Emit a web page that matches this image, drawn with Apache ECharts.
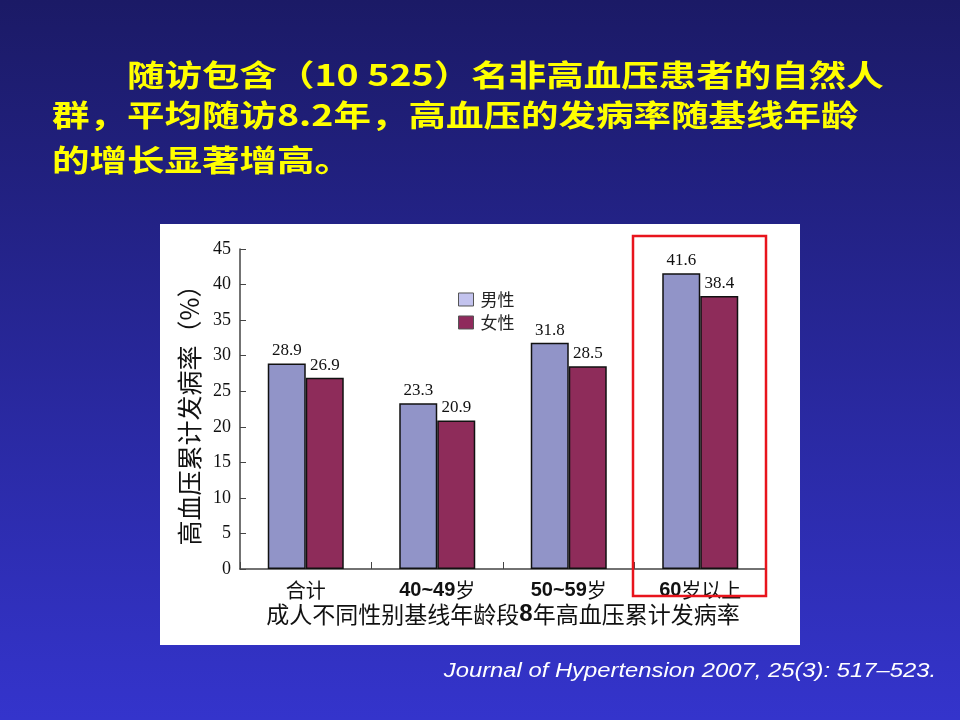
<!DOCTYPE html>
<html><head><meta charset="utf-8">
<script src="https://cdn.jsdelivr.net/npm/echarts@6/dist/echarts.min.js"></script>
<style>html,body{margin:0;padding:0;background:#1b1a66;}#c{width:960px;height:720px;}</style>
</head><body><div id="c"></div>
<script>
const categories = ['合计', '40~49岁', '50~59岁', '60岁以上'];
const maleValues = [28.9, 23.3, 31.8, 41.6];
const femaleValues = [26.9, 20.9, 28.5, 38.4];
const seriesNames = ['男性', '女性'];
const yTicks = {min: 0, max: 45, interval: 5};
const titleLines = ['随访包含（10 525）名非高血压患者的自然人', '群，平均随访8.2年，高血压的发病率随基线年龄', '的增长显著增高。'];
const xAxisName = '成人不同性别基线年龄段8年高血压累计发病率';
const yAxisName = '高血压累计发病率（%）';
const footer = 'Journal of Hypertension 2007, 25(3): 517–523.';

const chart = echarts.init(document.getElementById('c'), null, {renderer: 'canvas'});
const cjk = '"Noto Sans CJK SC", sans-serif';
const serif = '"Liberation Serif", "Noto Sans CJK SC", serif';

// wrap digit runs in bold style, other text in CJK style
function richify(v) {
  return v.split(/(\d[\d~]*)/).filter(s => s.length).map(s => /^\d/.test(s) ? '{b|' + s + '}' : '{c|' + s + '}').join('');
}

const richX = {
  b: {fontFamily: '"Liberation Sans", Arial, sans-serif', fontWeight: 'bold', fontSize: 20, color: '#111'},
  c: {fontFamily: cjk, fontSize: 20, color: '#111'}
};
const richName = {
  b: {fontFamily: '"Liberation Sans", Arial, sans-serif', fontWeight: 'bold', fontSize: 24, color: '#111'},
  c: {fontFamily: cjk, fontSize: 23, color: '#111'}
};

const option = {
  backgroundColor: {
    type: 'linear', x: 0, y: 0, x2: 0, y2: 1,
    colorStops: [{offset: 0, color: '#1b1a66'}, {offset: 1, color: '#3434cc'}]
  },
  animation: false,
  graphic: [
    {type: 'rect', z: -10, shape: {x: 160, y: 224, width: 640, height: 421}, style: {fill: '#ffffff'}},
    {type: 'text', x: 127, y: 75, scaleX: 1.25, style: {text: titleLines[0], fill: '#ffff00', font: 'bold 30px ' + cjk, verticalAlign: 'middle'}},
    {type: 'text', x: 52, y: 115, scaleX: 1.25, style: {text: titleLines[1], fill: '#ffff00', font: 'bold 30px ' + cjk, verticalAlign: 'middle'}},
    {type: 'text', x: 52, y: 160, scaleX: 1.25, style: {text: titleLines[2], fill: '#ffff00', font: 'bold 30px ' + cjk, verticalAlign: 'middle'}},
    {type: 'text', x: 936, y: 671, scaleX: 1.19, style: {text: footer, fill: '#ffffff', font: 'italic 20px "Liberation Sans", Arial, sans-serif', align: 'right', verticalAlign: 'middle'}},
    {type: 'rect', z: 100, shape: {x: 633, y: 236, width: 133, height: 360}, style: {fill: 'none', stroke: '#e8141c', lineWidth: 2.5}}
  ],
  legend: {
    orient: 'vertical', left: 453, top: 286,
    itemWidth: 15, itemHeight: 13, itemGap: 6,
    icon: 'rect',
    textStyle: {fontFamily: cjk, fontSize: 17, color: '#222', padding: [0, 0, 0, 2]},
    data: [
      {name: seriesNames[0], itemStyle: {color: '#c3c3ee', borderColor: '#555', borderWidth: 1}},
      {name: seriesNames[1], itemStyle: {color: '#8f2a5c', borderColor: '#555', borderWidth: 1}}
    ]
  },
  grid: {left: 240, right: 194, top: 249, bottom: 151},
  xAxis: {
    type: 'category', data: categories,
    axisLine: {lineStyle: {color: '#444', width: 1.5}},
    axisTick: {show: true, inside: true, length: 7, alignWithLabel: false, lineStyle: {color: '#444', width: 1}},
    axisLabel: {margin: 11, color: '#111', formatter: richify, rich: richX},
    name: richify(xAxisName), nameLocation: 'middle', nameGap: 45,
    nameTextStyle: {fontFamily: cjk, fontSize: 23, color: '#111', verticalAlign: 'middle', rich: richName}
  },
  yAxis: {
    type: 'value', min: yTicks.min, max: yTicks.max, interval: yTicks.interval,
    splitLine: {show: false},
    axisLine: {show: true, lineStyle: {color: '#444', width: 1.5}},
    axisTick: {show: true, inside: true, length: 6, lineStyle: {color: '#444'}},
    axisLabel: {margin: 9, fontFamily: serif, fontSize: 18, color: '#111'},
    name: yAxisName, nameLocation: 'middle', nameGap: 47, nameRotate: 90,
    nameTextStyle: {fontFamily: cjk, fontSize: 25, color: '#111', verticalAlign: 'middle'}
  },
  series: [
    {
      name: seriesNames[0], type: 'bar', data: maleValues, barWidth: 38, barGap: '0%',
      itemStyle: {color: '#9194c8', borderColor: '#111', borderWidth: 1.5},
      label: {show: true, position: 'top', distance: 4, fontFamily: serif, fontSize: 17, color: '#111'}
    },
    {
      name: seriesNames[1], type: 'bar', data: femaleValues, barWidth: 38, barGap: '0%',
      itemStyle: {color: '#8e2c5a', borderColor: '#111', borderWidth: 1.5},
      label: {show: true, position: 'top', distance: 4, fontFamily: serif, fontSize: 17, color: '#111'}
    }
  ]
};
chart.setOption(option);
</script>
</body></html>
